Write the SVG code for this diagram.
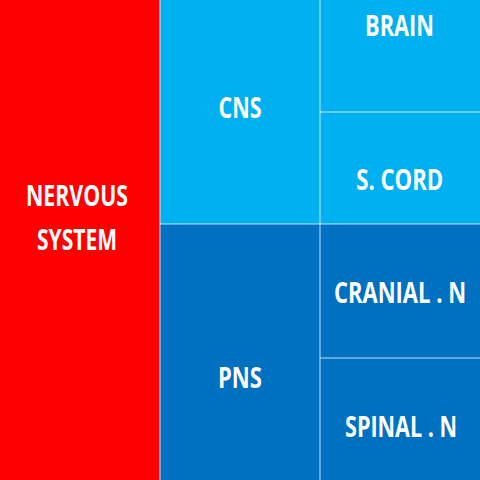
<svg xmlns="http://www.w3.org/2000/svg" width="480" height="480" viewBox="0 0 480 480">
<style>
.lbl{font-family:"Open Sans","Liberation Sans",sans-serif;font-weight:bold;font-size:23.5px;fill:#ffffff;text-anchor:middle}
.red{fill:#ff0000}
.lb{fill:#00b0f0}
.db{fill:#0070c0}
.div{stroke:#ffffff;stroke-opacity:0.5;stroke-width:1.5;fill:none}
</style>
<g id="nervous-system">
<rect class="red" x="0" y="0" width="160" height="480"/>
<text class="lbl" transform="translate(77,206) scale(1,1.2)" x="0" y="0" textLength="102" lengthAdjust="spacingAndGlyphs">NERVOUS</text>
<text class="lbl" transform="translate(77,250) scale(1,1.2)" x="0" y="0" textLength="80" lengthAdjust="spacingAndGlyphs">SYSTEM</text>
</g>
<g id="cns">
<rect class="lb" x="160" y="0" width="160" height="224"/>
<text class="lbl" transform="translate(240,118) scale(1,1.2)" x="0" y="0" textLength="43" lengthAdjust="spacingAndGlyphs">CNS</text>
</g>
<g id="pns">
<rect class="db" x="160" y="224" width="160" height="256"/>
<text class="lbl" transform="translate(240,388) scale(1,1.2)" x="0" y="0" textLength="44" lengthAdjust="spacingAndGlyphs">PNS</text>
</g>
<g id="brain">
<rect class="lb" x="320" y="0" width="160" height="112"/>
<text class="lbl" transform="translate(399.5,36) scale(1,1.2)" x="0" y="0" textLength="69" lengthAdjust="spacingAndGlyphs">BRAIN</text>
</g>
<g id="s-cord">
<rect class="lb" x="320" y="112" width="160" height="112"/>
<text class="lbl" transform="translate(399.7,190) scale(1,1.2)" x="0" y="0" textLength="87" lengthAdjust="spacingAndGlyphs">S. CORD</text>
</g>
<g id="cranial-n">
<rect class="db" x="320" y="224" width="160" height="134"/>
<text class="lbl" transform="translate(400,303) scale(1,1.2)" x="0" y="0" textLength="132" lengthAdjust="spacingAndGlyphs">CRANIAL . N</text>
</g>
<g id="spinal-n">
<rect class="db" x="320" y="358" width="160" height="122"/>
<text class="lbl" transform="translate(401,437) scale(1,1.2)" x="0" y="0" textLength="112" lengthAdjust="spacingAndGlyphs">SPINAL . N</text>
</g>
<g id="connectors">
<line class="div" x1="160" y1="0" x2="160" y2="480"/>
<line class="div" x1="320" y1="0" x2="320" y2="480"/>
<line class="div" x1="160" y1="224" x2="480" y2="224"/>
<line class="div" x1="320" y1="112" x2="480" y2="112"/>
<line class="div" x1="320" y1="358" x2="480" y2="358"/>
</g>
</svg>
